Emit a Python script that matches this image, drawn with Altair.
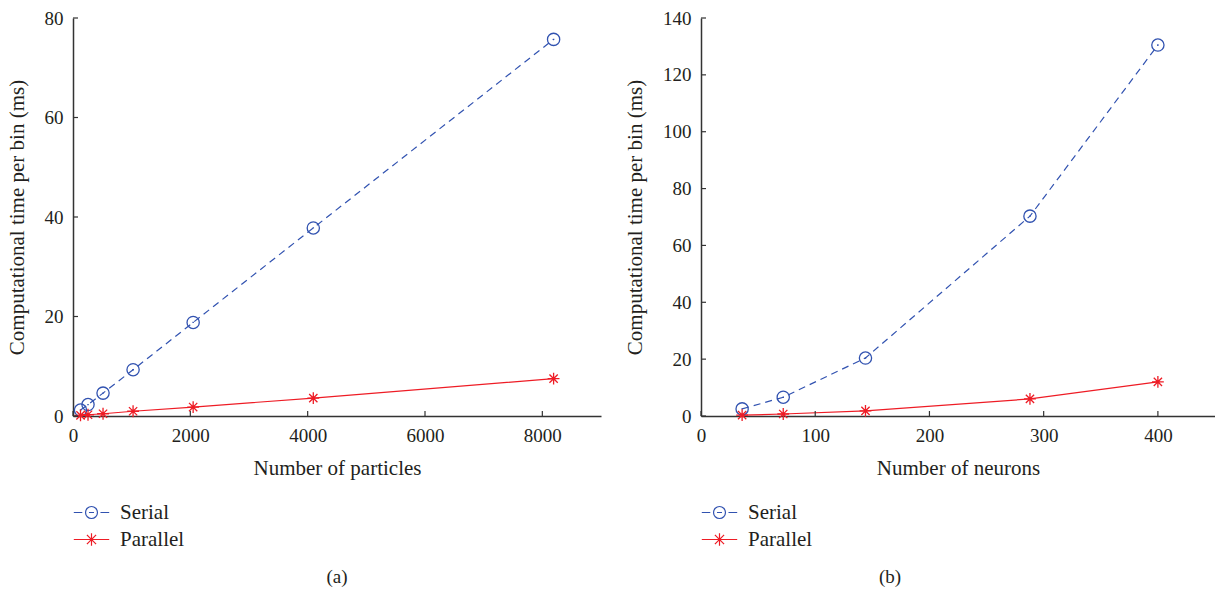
import altair as alt
import pandas as pd

# ---------------- data ----------------
particles = [128, 256, 512, 1024, 2048, 4096, 8192]
serial_a = [1.2, 2.3, 4.6, 9.3, 18.8, 37.8, 75.7]
parallel_a = [0.12, 0.25, 0.45, 0.95, 1.8, 3.6, 7.5]

neurons = [36, 72, 144, 288, 400]
serial_b = [2.5, 6.6, 20.4, 70.3, 130.5]
parallel_b = [0.3, 0.7, 1.8, 6.0, 12.0]

xticks_a = [0, 2000, 4000, 6000, 8000]
yticks_a = [0, 20, 40, 60, 80]
xticks_b = [0, 100, 200, 300, 400]
yticks_b = [0, 20, 40, 60, 80, 100, 120, 140]

series = ["Serial", "Parallel"]
colors = ["#3152b0", "#ee1c25"]

FONT = "Liberation Serif"
TXT = "#231f20"

# marker paths
CIRCLE = "M-1,0A1,1,0,1,1,1,0A1,1,0,1,1,-1,0Z M-0.12,0L0.12,0"
ASTER = "M0,-1L0,1M-1,0L1,0M-0.7,-0.7L0.7,0.7M-0.7,0.7L0.7,-0.7"
LEG_S = ("M-1.54,0L-0.8,0M0.78,0L1.54,0"
         "M-0.52,0A0.52,0.52,0,1,1,0.52,0A0.52,0.52,0,1,1,-0.52,0Z"
         "M-0.22,0L0.22,0")
LEG_P = "M-1.54,0L1.54,0M0,-0.55L0,0.55M-0.4,-0.4L0.4,0.4M-0.4,0.4L0.4,-0.4"


def panel(xs, ser, par, xdom, ydom, xticks, yticks, xtitle, W, H, tag, tagx):
    df = pd.DataFrame({
        "x": xs + xs,
        "y": ser + par,
        "series": ["Serial"] * len(xs) + ["Parallel"] * len(xs),
    })
    X = alt.X("x:Q", scale=alt.Scale(domain=xdom, nice=False, zero=False),
              axis=alt.Axis(values=xticks, title=xtitle, labelFlush=False, format="d"))
    Y = alt.Y("y:Q", scale=alt.Scale(domain=ydom, nice=False, zero=False),
              axis=alt.Axis(values=yticks, title="Computational time per bin (ms)", format="d"))
    base = alt.Chart(df)
    s_line = base.transform_filter("datum.series == 'Serial'").mark_line(
        color=colors[0], strokeDash=[7, 5], strokeWidth=1.2).encode(x=X, y=Y)
    s_pt = base.transform_filter("datum.series == 'Serial'").mark_point(
        shape=CIRCLE, size=150, filled=False, color=colors[0], strokeWidth=1.3,
        opacity=1).encode(x=X, y=Y)
    p_line = base.transform_filter("datum.series == 'Parallel'").mark_line(
        color=colors[1], strokeWidth=1.2).encode(x=X, y=Y)
    p_pt = base.transform_filter("datum.series == 'Parallel'").mark_point(
        shape=ASTER, size=140, filled=False, color=colors[1], strokeWidth=1.3,
        opacity=1).encode(x=X, y=Y)

    leg_props = dict(orient="none", legendX=6, legendY=482, title=None,
                     symbolSize=529, symbolStrokeWidth=1.2, labelFont=FONT,
                     labelFontSize=21, labelColor=TXT, labelOffset=16,
                     rowPadding=4, padding=0, direction="vertical")
    legend = alt.Chart(pd.DataFrame({"series": series})).transform_filter(
        "false").mark_point(filled=False, size=529, opacity=1).encode(
        color=alt.Color("series:N", scale=alt.Scale(domain=series, range=colors),
                        legend=alt.Legend(**leg_props)),
        shape=alt.Shape("series:N", scale=alt.Scale(domain=series, range=[LEG_S, LEG_P]),
                        legend=alt.Legend(**leg_props)),
    )

    xt = alt.Chart(pd.DataFrame({"x": xticks})).mark_rule(
        color="#333", strokeWidth=1.2).encode(x=X, y=alt.value(H), y2=alt.value(H - 5))
    yt = alt.Chart(pd.DataFrame({"y": yticks})).mark_rule(
        color="#333", strokeWidth=1.2).encode(y=Y, x=alt.value(0), x2=alt.value(5))
    lab = alt.Chart(pd.DataFrame({"t": [tag]})).mark_text(
        font=FONT, fontSize=19, color=TXT).encode(
        text="t:N", x=alt.value(tagx), y=alt.value(H + 161))

    return alt.layer(s_line, p_line, s_pt, p_pt, xt, yt, legend, lab).properties(
        width=W, height=H)


left = panel(particles, serial_a, parallel_a, [0, 9000], [0, 80], xticks_a, yticks_a,
             "Number of particles", 528, 398, "(a)", 264)
right = panel(neurons, serial_b, parallel_b, [0, 450], [0, 140], xticks_b, yticks_b,
              "Number of neurons", 514, 398, "(b)", 189)

chart = alt.hconcat(left, right, spacing=23).resolve_scale(
    color="independent", shape="independent", x="independent", y="independent"
).resolve_legend(color="independent", shape="independent").configure_view(
    stroke=None
).configure_axis(
    labelFont=FONT, titleFont=FONT, labelFontSize=19, titleFontSize=21,
    titleFontWeight="normal", labelColor=TXT, titleColor=TXT,
    domainColor="#333", domainWidth=1.5, grid=False, ticks=False,
).configure_axisX(labelPadding=10, titlePadding=12).configure_axisY(
    labelPadding=10, titlePadding=17
).properties(padding={"left": 6, "top": 9, "right": 0, "bottom": 0}, background="white")

chart.save("out.html", embed_options={"renderer": "svg", "actions": False})
